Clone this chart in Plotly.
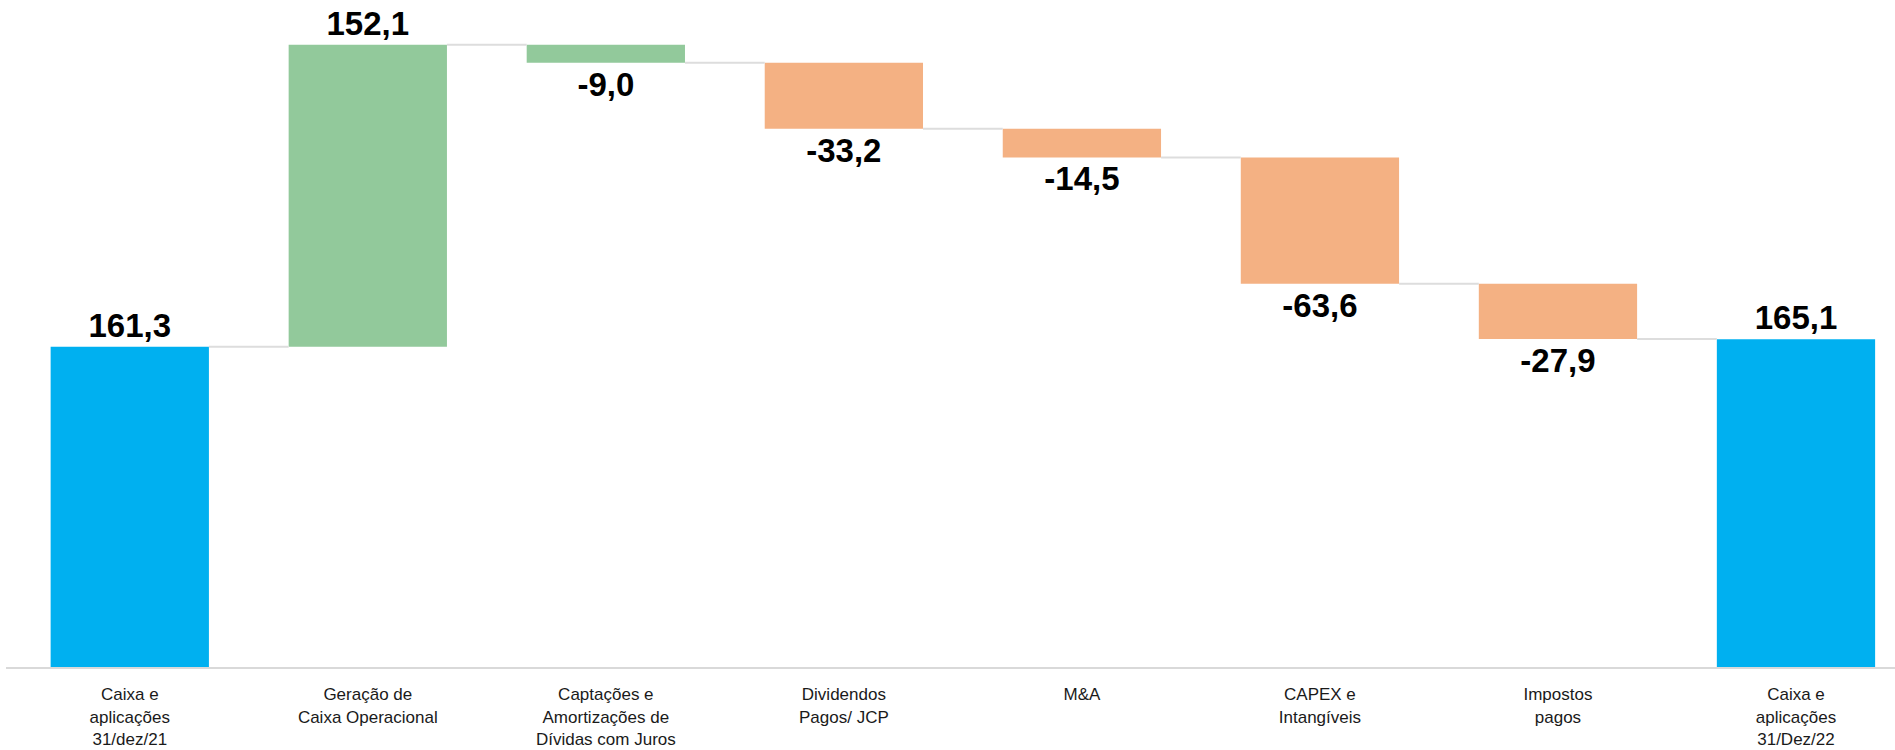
import plotly.graph_objects as go

categories = [
    "Caixa e<br>aplicações<br>31/dez/21",
    "Geração de<br>Caixa Operacional",
    "Captações e<br>Amortizações de<br>Dívidas com Juros",
    "Dividendos<br>Pagos/ JCP",
    "M&A",
    "CAPEX e<br>Intangíveis",
    "Impostos<br>pagos",
    "Caixa e<br>aplicações<br>31/Dez/22",
]
values = [161.3, 152.1, -9.0, -33.2, -14.5, -63.6, -27.9, 165.1]
measures = ["absolute", "relative", "relative", "relative", "relative", "relative", "relative", "absolute"]
colors = ["#00B0F0", "#92C99B", "#92C99B", "#F4B183", "#F4B183", "#F4B183", "#F4B183", "#00B0F0"]

BAR_W = 0.665
xs = list(range(len(categories)))

bases, levels = [], []
level = 0.0
for v, m in zip(values, measures):
    if m == "absolute":
        bases.append(0.0)
        level = v
    else:
        bases.append(level)
        level = level + v
    levels.append(level)

labels = [f"{v:.1f}".replace(".", ",") for v in values]

FONT = "Liberation Sans, Arial, sans-serif"

fig = go.Figure()
fig.add_trace(go.Bar(
    x=xs, y=values, base=bases, width=BAR_W,
    marker=dict(color=colors, line=dict(width=0)),
    text=labels, textposition="outside", cliponaxis=False,
    textfont=dict(family=FONT, size=33, color="#000000", weight="bold"),
    constraintext="none",
    hoverinfo="skip",
))

cx, cy = [], []
for i in range(len(categories) - 1):
    cx += [i + BAR_W / 2, i + 1 - BAR_W / 2, None]
    cy += [levels[i], levels[i], None]
fig.add_trace(go.Scatter(x=cx, y=cy, mode="lines", line=dict(color="#DDDDDD", width=2), hoverinfo="skip"))

fig.update_layout(
    width=1895, height=750,
    margin=dict(l=6, r=0, t=0, b=83, autoexpand=False),
    paper_bgcolor="white", plot_bgcolor="white",
    showlegend=False,
    font=dict(family=FONT, color="#1a1a1a"),
)
fig.update_xaxes(
    tickmode="array", tickvals=xs, ticktext=categories,
    range=[-0.52, 7.416], showgrid=False, zeroline=False,
    showline=True, linecolor="#D9D9D9", linewidth=2,
    ticks="", tickfont=dict(size=17, color="#1a1a1a"), ticklabelstandoff=11,
    automargin=False,
)
fig.update_yaxes(range=[0, 336], visible=False, showgrid=False, zeroline=False, automargin=False)

fig.write_html(
    "out.html",
    config={"displayModeBar": False},
    post_script="document.body.style.margin='0';document.body.style.overflow='hidden';",
)
